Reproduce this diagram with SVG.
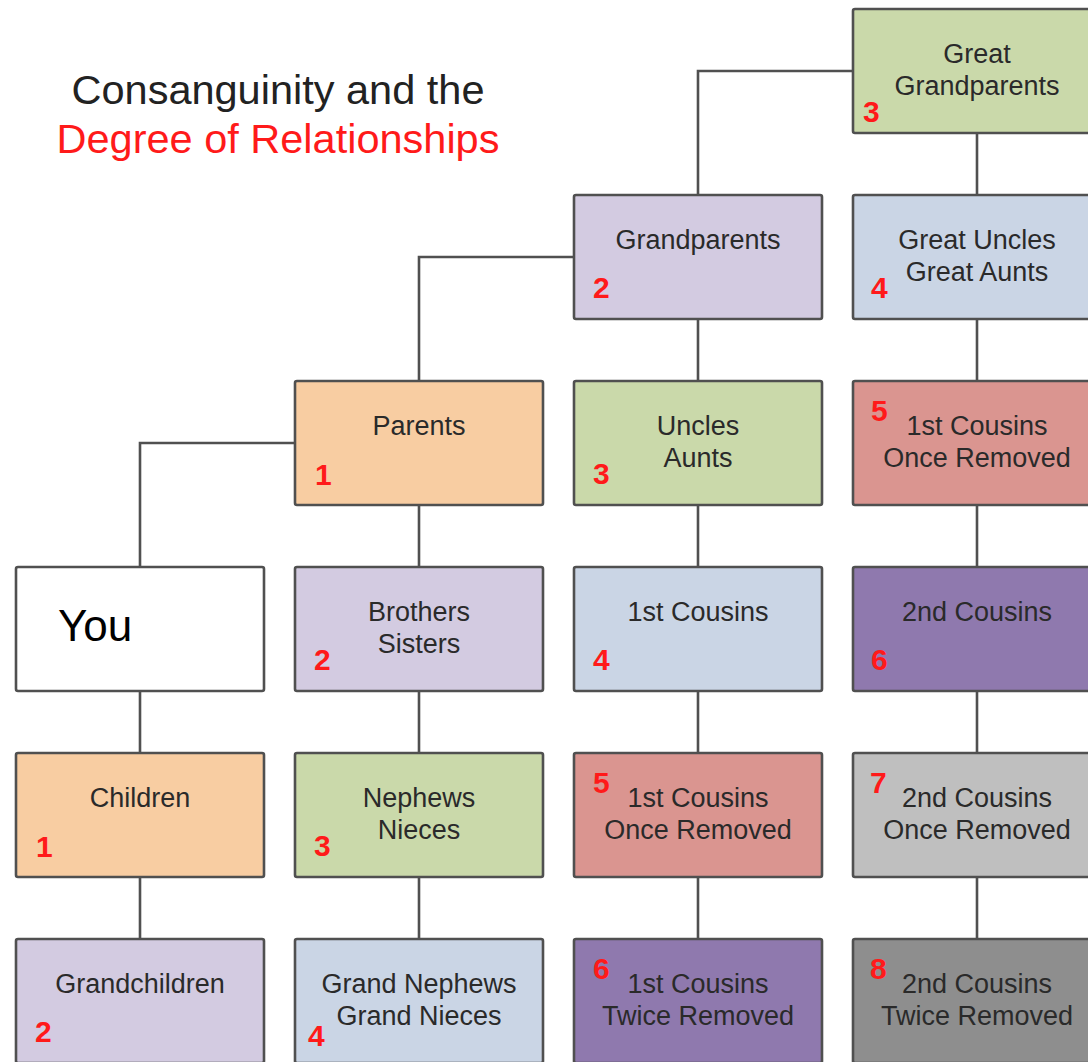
<svg xmlns="http://www.w3.org/2000/svg" width="1088" height="1062" viewBox="0 0 1088 1062">
<style>
.box{stroke:#505050;stroke-width:2.6}
.lbl{font-family:"Liberation Sans",Arial,sans-serif;font-size:27px;fill:#2a2a2a;text-anchor:middle}
.num{font-family:"Liberation Sans",Arial,sans-serif;font-size:30px;font-weight:bold;fill:#ff1a1a}
.con{fill:none;stroke:#505050;stroke-width:2.6}
.or{fill:#f8cda2}.lv{fill:#d3cbe1}.gr{fill:#cad9aa}.bl{fill:#cad5e5}.sa{fill:#da9590}.pu{fill:#8f79ae}.lg{fill:#bfbfbf}.dg{fill:#8e8e8e}.wh{fill:#fff}
</style>
<rect width="1088" height="1062" fill="#fff"/>
<g id="title" font-family="Liberation Sans,Arial,sans-serif" font-size="41.5" text-anchor="middle">
<text x="278" y="104" fill="#222">Consanguinity and the</text>
<text x="278" y="153" fill="#ff1a1a">Degree of Relationships</text>
</g>
<g id="connectors">
<path class="con" d="M853,71 H698 V195"/>
<path class="con" d="M574,257 H419 V381"/>
<path class="con" d="M295,443 H140 V567"/>
<path class="con" d="M140,691 V753 M140,877 V939"/>
<path class="con" d="M419,505 V567 M419,691 V753 M419,877 V939"/>
<path class="con" d="M698,319 V381 M698,505 V567 M698,691 V753 M698,877 V939"/>
<path class="con" d="M977,133 V195 M977,319 V381 M977,505 V567 M977,691 V753 M977,877 V939"/>
</g>
<g id="you"><rect class="box wh" x="16" y="567" width="248" height="124" rx="2"/><text x="58" y="641" font-family="Liberation Sans,Arial,sans-serif" font-size="44" fill="#000">You</text></g>
<g id="children"><rect class="box or" x="16" y="753" width="248" height="124" rx="2"/><text class="lbl" x="140" y="807">Children</text><text class="num" x="36" y="857">1</text></g>
<g id="grandchildren"><rect class="box lv" x="16" y="939" width="248" height="124" rx="2"/><text class="lbl" x="140" y="993">Grandchildren</text><text class="num" x="35" y="1042">2</text></g>
<g id="parents"><rect class="box or" x="295" y="381" width="248" height="124" rx="2"/><text class="lbl" x="419" y="435">Parents</text><text class="num" x="315" y="485">1</text></g>
<g id="siblings"><rect class="box lv" x="295" y="567" width="248" height="124" rx="2"/><text class="lbl" x="419" y="621">Brothers</text><text class="lbl" x="419" y="653">Sisters</text><text class="num" x="314" y="670">2</text></g>
<g id="nephews"><rect class="box gr" x="295" y="753" width="248" height="124" rx="2"/><text class="lbl" x="419" y="807">Nephews</text><text class="lbl" x="419" y="839">Nieces</text><text class="num" x="314" y="856">3</text></g>
<g id="grandnephews"><rect class="box bl" x="295" y="939" width="248" height="124" rx="2"/><text class="lbl" x="419" y="993">Grand Nephews</text><text class="lbl" x="419" y="1025">Grand Nieces</text><text class="num" x="308" y="1046">4</text></g>
<g id="grandparents"><rect class="box lv" x="574" y="195" width="248" height="124" rx="2"/><text class="lbl" x="698" y="249">Grandparents</text><text class="num" x="593" y="298">2</text></g>
<g id="uncles"><rect class="box gr" x="574" y="381" width="248" height="124" rx="2"/><text class="lbl" x="698" y="435">Uncles</text><text class="lbl" x="698" y="467">Aunts</text><text class="num" x="593" y="484">3</text></g>
<g id="cousins1"><rect class="box bl" x="574" y="567" width="248" height="124" rx="2"/><text class="lbl" x="698" y="621">1st Cousins</text><text class="num" x="593" y="670">4</text></g>
<g id="cousins1once"><rect class="box sa" x="574" y="753" width="248" height="124" rx="2"/><text class="lbl" x="698" y="807">1st Cousins</text><text class="lbl" x="698" y="839">Once Removed</text><text class="num" x="593" y="793">5</text></g>
<g id="cousins1twice"><rect class="box pu" x="574" y="939" width="248" height="124" rx="2"/><text class="lbl" x="698" y="993">1st Cousins</text><text class="lbl" x="698" y="1025">Twice Removed</text><text class="num" x="593" y="979">6</text></g>
<g id="greatgrandparents"><rect class="box gr" x="853" y="9" width="248" height="124" rx="2"/><text class="lbl" x="977" y="63">Great</text><text class="lbl" x="977" y="95">Grandparents</text><text class="num" x="863" y="122">3</text></g>
<g id="greatuncles"><rect class="box bl" x="853" y="195" width="248" height="124" rx="2"/><text class="lbl" x="977" y="249">Great Uncles</text><text class="lbl" x="977" y="281">Great Aunts</text><text class="num" x="871" y="298">4</text></g>
<g id="cousins1once_up"><rect class="box sa" x="853" y="381" width="248" height="124" rx="2"/><text class="lbl" x="977" y="435">1st Cousins</text><text class="lbl" x="977" y="467">Once Removed</text><text class="num" x="871" y="421">5</text></g>
<g id="cousins2"><rect class="box pu" x="853" y="567" width="248" height="124" rx="2"/><text class="lbl" x="977" y="621">2nd Cousins</text><text class="num" x="871" y="670">6</text></g>
<g id="cousins2once"><rect class="box lg" x="853" y="753" width="248" height="124" rx="2"/><text class="lbl" x="977" y="807">2nd Cousins</text><text class="lbl" x="977" y="839">Once Removed</text><text class="num" x="870" y="793">7</text></g>
<g id="cousins2twice"><rect class="box dg" x="853" y="939" width="248" height="124" rx="2"/><text class="lbl" x="977" y="993">2nd Cousins</text><text class="lbl" x="977" y="1025">Twice Removed</text><text class="num" x="870" y="979">8</text></g>
</svg>
